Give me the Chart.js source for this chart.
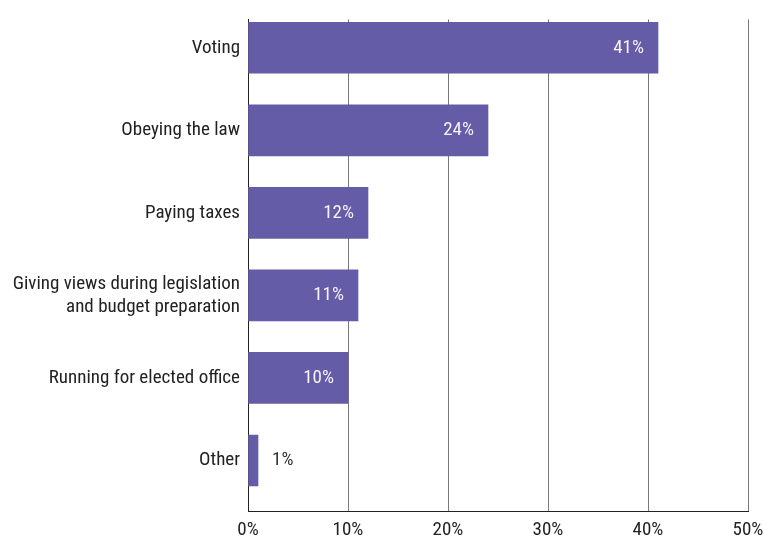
<!DOCTYPE html>
<html>
<head>
<meta charset="utf-8">
<script src="https://cdn.jsdelivr.net/npm/chart.js@4"></script>
<style>
  html, body { margin: 0; padding: 0; background: #fff; }
  #wrap { width: 764px; height: 540px; }
</style>
</head>
<body>
<div id="wrap"><canvas id="c" width="764" height="540"></canvas></div>
<script>
// datos
const categories = [
  'Voting',
  'Obeying the law',
  'Paying taxes',
  ['Giving views during legislation', 'and budget preparation'],
  'Running for elected office',
  'Other'
];
const shares = [41, 24, 12, 11, 10, 1];
const xMax = 50, xStep = 10;

const FONT = "'Roboto Condensed', 'Liberation Sans Narrow', 'Arial Narrow', Roboto, sans-serif";
const BAR = '#645CA6';

// etiquetas de valor: dentro de la barra (blanco) o fuera si es muy corta
const valueLabels = {
  id: 'valueLabels',
  afterDatasetsDraw(chart) {
    const ctx = chart.ctx;
    const meta = chart.getDatasetMeta(0);
    ctx.save();
    ctx.font = '19px ' + FONT;
    ctx.textBaseline = 'middle';
    meta.data.forEach((el, i) => {
      const v = shares[i];
      if (v >= 5) {
        ctx.fillStyle = '#f4f4f8';
        ctx.textAlign = 'right';
        ctx.fillText(v + '%', el.x - 14, el.y);
      } else {
        ctx.fillStyle = '#333';
        ctx.textAlign = 'left';
        ctx.fillText(v + '%', el.x + 14, el.y);
      }
    });
    ctx.restore();
  }
};

new Chart(document.getElementById('c'), {
  type: 'bar',
  data: {
    datasets: [{
      data: shares.map((v, i) => ({ x: v, y: i })),
      backgroundColor: BAR,
      borderWidth: 0,
      barThickness: 51
    }]
  },
  options: {
    indexAxis: 'y',
    responsive: false,
    animation: false,
    layout: { padding: { top: 15, right: 0, left: 0, bottom: 0 } },
    plugins: { legend: { display: false }, tooltip: { enabled: false } },
    scales: {
      x: {
        type: 'linear', min: 0, max: xMax,
        grid: { color: '#777', lineWidth: 1, drawTicks: false },
        border: { display: true, color: '#222', width: 1 },
        ticks: { stepSize: xStep, padding: 8, color: '#222', font: { family: FONT, size: 19 },
          callback: (v) => v + '%' },
        afterFit: (s) => { s.height = 29; s.paddingRight = 16; }
      },
      y: {
        type: 'linear', reverse: true, min: -0.344, max: 5.612, offset: false,
        grid: { display: false, drawTicks: false, offset: false },
        border: { display: true, color: '#222', width: 1 },
        ticks: { stepSize: 1, padding: 8, color: '#222', autoSkip: false,
          font: { family: FONT, size: 19 }, lineHeight: 1.2,
          callback: (v) => Number.isInteger(v) && categories[v] !== undefined ? categories[v] : '' },
        afterFit: (s) => { s.width = 248; }
      }
    }
  },
  plugins: [valueLabels]
});
</script>
</body>
</html>
